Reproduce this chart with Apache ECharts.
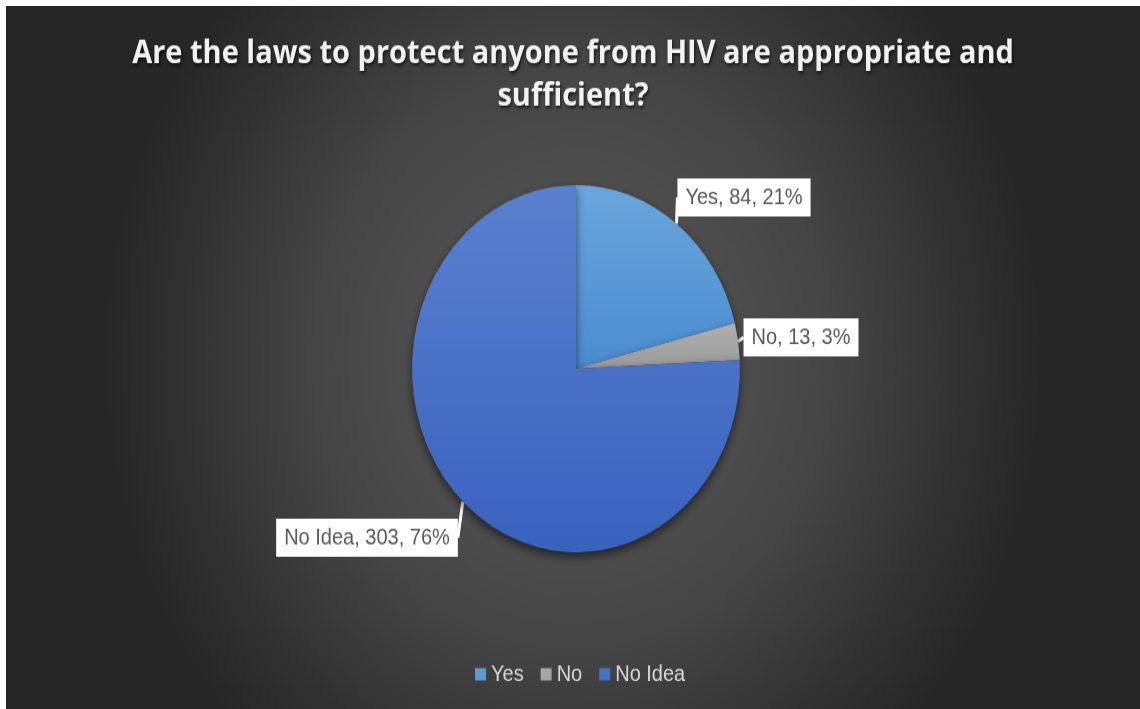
<!DOCTYPE html>
<html>
<head>
<meta charset="utf-8">
<script src="https://cdn.jsdelivr.net/npm/echarts@6/dist/echarts.min.js"></script>
<style>
  html, body { margin: 0; padding: 0; background: #ffffff; width: 1140px; height: 709px; overflow: hidden; }
  #wrap { position: absolute; left: 6px; top: 6px; width: 1134px; height: 628px; transform: scaleY(1.1194); transform-origin: 0 0; }
</style>
</head>
<body>
<div id="wrap"></div>
<script>
const titleText = 'Are the laws to protect anyone from HIV are appropriate and\nsufficient?';
const categories = ['Yes', 'No', 'No Idea'];
const values = [84, 13, 303];
const colorsTop = ['#6aa6dd', '#b0b0b0', '#5a80cf'];
const colorsBottom = ['#4b8ccf', '#9a9a9a', '#3863be'];
const legendColors = ['#5b9bd5', '#a5a5a5', '#4472c4'];
// label box centres (layout only)
const labelPos = [[738, 171], [795, 296], [361, 475]];

const chart = echarts.init(document.getElementById('wrap'), null, { renderer: 'canvas' });

const data = categories.map((c, i) => ({
  name: c,
  value: values[i],
  itemStyle: {
    color: {
      type: 'linear', x: 0, y: 0, x2: 0, y2: 1,
      colorStops: [{ offset: 0, color: colorsTop[i] }, { offset: 1, color: colorsBottom[i] }]
    }
  }
}));

chart.setOption({
  backgroundColor: {
    type: 'radial', x: 0.5, y: 0.5, r: 0.75,
    colorStops: [
      { offset: 0, color: '#5a5a5a' },
      { offset: 0.55, color: '#454545' },
      { offset: 1, color: '#262626' }
    ]
  },
  color: legendColors,
  title: {
    text: titleText,
    left: 'center',
    top: 19,
    textStyle: {
      color: '#f2f2f2',
      fontFamily: 'Open Sans',
      fontWeight: 'bold',
      fontSize: 29,
      lineHeight: 38,
      textShadowColor: 'rgba(0,0,0,0.7)',
      textShadowBlur: 3,
      textShadowOffsetX: 1,
      textShadowOffsetY: 2
    }
  },
  legend: {
    data: categories.map((c, i) => ({ name: c, itemStyle: { color: legendColors[i] } })),
    left: 464,
    top: 582,
    icon: 'rect',
    itemWidth: 11,
    itemHeight: 11,
    itemGap: 17,
    textStyle: { color: '#d9d9d9', fontFamily: 'Liberation Sans', fontSize: 20 }
  },
  series: [{
    type: 'pie',
    center: [570, 324],
    radius: 164,
    startAngle: 90,
    clockwise: true,
    percentPrecision: 0,
    data: data,
    itemStyle: {
      shadowColor: 'rgba(0,0,0,0.55)',
      shadowBlur: 8,
      shadowOffsetY: 4
    },
    label: {
      show: true,
      position: 'outside',
      formatter: '{b}, {c}, {d}%',
      color: '#595959',
      fontFamily: 'Liberation Sans',
      fontSize: 20,
      backgroundColor: '#ffffff',
      padding: [7, 8, 7, 8]
    },
    labelLine: {
      show: true,
      length: 10,
      length2: 0,
      lineStyle: { color: '#ffffff', width: 3 }
    },
    labelLayout: function (p) {
      const pos = labelPos[p.dataIndex];
      return { x: pos[0], y: pos[1], align: 'center', verticalAlign: 'middle' };
    },
    emphasis: { disabled: true }
  }]
});
</script>
</body>
</html>
